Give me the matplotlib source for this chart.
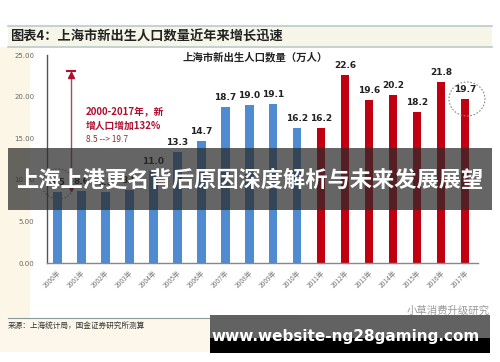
import matplotlib
matplotlib.use("Agg")
import matplotlib.pyplot as plt
from matplotlib.patches import Rectangle, Ellipse

plt.rcParams['font.family'] = ['Noto Sans CJK SC', 'DejaVu Sans']

years = [f"{y}年" for y in range(2000, 2018)]
values = [8.5, 8.6, 8.5, 8.8, 11.0, 13.3, 14.7, 18.7, 19.0, 19.1, 16.2,
          16.2, 22.6, 19.6, 20.2, 18.2, 21.8, 19.7]
labels = ["8.5", "8.6", "8.5", "8.8", "11.0", "13.3", "14.7", "18.7", "19.0", "19.1", "16.2",
          "16.2", "22.6", "19.6", "20.2", "18.2", "21.8", "19.7"]
yticks = [0, 5, 10, 15, 20, 25]
blue = "#4f8bd0"
red = "#c00010"
colors = [blue] * 11 + [red] * 7

W, H = 500, 362
fig = plt.figure(figsize=(5.0, 3.62), dpi=100)
fig.patch.set_facecolor("white")

def fx(px):
    return px / W

def fy(py):
    return 1 - py / H

# cream left margin
fig.patches.append(Rectangle((0, fy(318)), fx(30), fy(47) - fy(318), transform=fig.transFigure,
                             facecolor="#fcf6e6", edgecolor="none", zorder=-5))
fig.patches.append(Rectangle((0, fy(352)), fx(210), fy(318) - fy(352), transform=fig.transFigure,
                             facecolor="#fcf7ea", edgecolor="none", zorder=-5))
# title band
fig.patches.append(Rectangle((fx(8), fy(47)), fx(484), fy(26) - fy(47), transform=fig.transFigure,
                             facecolor="#f6f5e8", edgecolor="none", zorder=-4))
fig.lines.append(plt.Line2D([fx(8), fx(492)], [fy(26), fy(26)], transform=fig.transFigure,
                            color="#b8cccc", lw=1.2))
fig.lines.append(plt.Line2D([fx(8), fx(492)], [fy(47), fy(47)], transform=fig.transFigure,
                            color="#b8cccc", lw=1.2))
fig.text(fx(10), fy(37), "图表4：上海市新出生人口数量近年来增长迅速", fontsize=9.5,
         fontweight="bold", style="italic", color="#222222", va="center", ha="left")

ax = fig.add_axes([fx(47), fy(263), fx(478) - fx(47), fy(55) - fy(263)])
ax.set_facecolor("none")
x = list(range(len(values)))
ax.bar(x, values, width=0.37, color=colors, zorder=2)
for i, (v, lab) in enumerate(zip(values, labels)):
    ax.text(i, v + 0.6, lab, ha="center", va="bottom", fontsize=6.5, fontweight="bold",
            color="#222222", family="DejaVu Sans")
ax.set_xlim(-0.42, 17.54)
ax.set_ylim(0, 25)
ax.set_yticks(yticks)
ax.set_yticklabels([f"{t:.2f}" for t in yticks], fontsize=5, color="#666666", family="DejaVu Sans")
ax.set_xticks(x)
ax.set_xticklabels(years, rotation=45, ha="right", rotation_mode="anchor", fontsize=4.8, color="#777777")
ax.tick_params(length=0, pad=4)
ax.tick_params(axis="y", pad=9)
for s in ["top", "right"]:
    ax.spines[s].set_visible(False)
ax.spines["left"].set_color("#555555")
ax.spines["left"].set_linewidth(1.0)
ax.spines["bottom"].set_color("#888888")
ax.spines["bottom"].set_linewidth(1.0)

fig.text(fx(255), fy(57), "上海市新出生人口数量（万人）", fontsize=7.5, fontweight="bold",
         color="#222222", ha="center", va="center")

# annotation arrow line
fig.lines.append(plt.Line2D([fx(71), fx(71)], [fy(72), fy(188)], transform=fig.transFigure,
                            color="#a05060", lw=1.0))
fig.lines.append(plt.Line2D([fx(67), fx(75)], [fy(71), fy(71)], transform=fig.transFigure,
                            color="#b01030", lw=1.5))
fig.lines.append(plt.Line2D([fx(71)], [fy(75)], transform=fig.transFigure, marker="^",
                            color="#b01030", markersize=4))
fig.lines.append(plt.Line2D([fx(71)], [fy(188)], transform=fig.transFigure, marker="v",
                            color="#b01030", markersize=4))
fig.text(fx(86), fy(112), "2000-2017年，新", fontsize=7, color="#b01030", fontweight="bold",
         ha="left", va="center")
fig.text(fx(86), fy(126), "增人口增加132%", fontsize=7, color="#b01030", fontweight="bold",
         ha="left", va="center")
fig.text(fx(86), fy(139), "8.5 --> 19.7", fontsize=6, color="#8a3030",
         ha="left", va="center")

# dotted circles
fig.patches.append(Ellipse((fx(467), fy(99)), fx(36), fy(0) - fy(34), transform=fig.transFigure,
                           fill=False, edgecolor="#888888", linestyle=(0, (1.5, 1.5)), lw=0.8))
fig.patches.append(Ellipse((fx(58), fy(184)), fx(32), fy(0) - fy(30), transform=fig.transFigure,
                           fill=False, edgecolor="#888888", linestyle=(0, (1.5, 1.5)), lw=0.8))

# source line and text
fig.lines.append(plt.Line2D([fx(8), fx(300)], [fy(318), fy(318)], transform=fig.transFigure,
                            color="#8a9a9a", lw=0.8))
fig.text(fx(8), fy(327), "来源：上海统计局，国金证券研究所测算", fontsize=5.5, color="#333333",
         ha="left", va="center")
fig.text(fx(490), fy(311), "小草消费升级研究", fontsize=7.5, color="#999999",
         ha="right", va="center")

# overlay band
fig.patches.append(Rectangle((fx(8), fy(210)), fx(484), fy(148) - fy(210), transform=fig.transFigure,
                             facecolor="#2a2a2a", alpha=0.72, edgecolor="none", zorder=5))
fig.text(fx(250), fy(180), "上海上港更名背后原因深度解析与未来发展展望", fontsize=16,
         fontweight="bold", color="white", ha="center", va="center", zorder=6)

# bottom url bar
fig.patches.append(Rectangle((fx(210), fy(338)), fx(280), fy(315) - fy(338), transform=fig.transFigure,
                             facecolor="#5a5a5a", alpha=0.95, edgecolor="none", zorder=5))
fig.patches.append(Rectangle((fx(210), fy(353)), fx(280), fy(338) - fy(353), transform=fig.transFigure,
                             facecolor="black", edgecolor="none", zorder=5))
fig.text(fx(346), fy(337), "www.website-ng28gaming.com", fontsize=11, fontweight="bold",
         color="white", ha="center", va="center", family="DejaVu Sans", zorder=6)

fig.savefig("out.png", dpi=100)
